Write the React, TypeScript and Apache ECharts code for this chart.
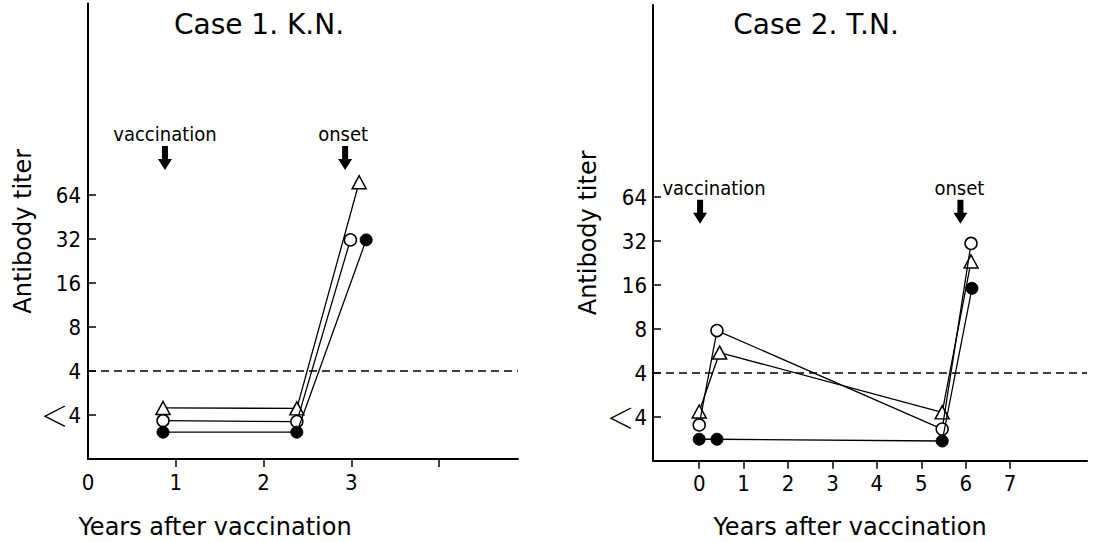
import React, { useEffect, useRef } from "react";
import * as echarts from "echarts";

const titles = ["Case 1. K.N.", "Case 2. T.N."];
const xAxisName = "Years after vaccination";
const yAxisName = "Antibody titer";

// titer levels on a log2 scale: 0 = "<4", 1 = 4, 2 = 8, ...
const yTickValues = [0, 1, 2, 3, 4, 5];
const yTickLabels = ["＜4", "4", "8", "16", "32", "64"];
const thresholdLevel = 1;

const case1XTicks = [1, 2, 3, 4];
const case1XLabels = [0, 1, 2, 3];
const case2XTicks = [0, 1, 2, 3, 4, 5, 6, 7];
const case2XLabels = [0, 1, 2, 3, 4, 5, 6, 7];

// Case 1 series [years, level]
const case1Triangle = [[0.855, 0.16], [2.38, 0.15], [3.09, 5.29]];
const case1Open = [[0.855, -0.13], [2.38, -0.15], [2.99, 3.98]];
const case1Filled = [[0.855, -0.39], [2.38, -0.39], [3.17, 3.98]];

// Case 2 series
const case2Triangle = [[0, 0.13], [0.46, 1.47], [5.47, 0.11], [6.12, 3.54]];
const case2Open = [[0, -0.175], [0.4, 1.97], [5.47, -0.27], [6.12, 3.95]];
const case2Filled = [[0, -0.5], [0.4, -0.5], [5.47, -0.54], [6.14, 2.93]];

// events (arrows)
const case1Events = [
  { name: "vaccination", x: 0.877 },
  { name: "onset", x: 2.93 },
];
const case2Events = [
  { name: "vaccination", x: 0.02 },
  { name: "onset", x: 5.88 },
];

const TICK_FONT = "'DejaVu Sans Condensed', 'DejaVu Sans', sans-serif";
const NARROW_FONT = "'Liberation Sans Narrow', 'DejaVu Sans Condensed', sans-serif";
const NAME_FONT = "'DejaVu Sans', sans-serif";
const ARROW =
  "path://M4 0 L10 0 L10 13 L14 13 L7 24 L0 13 L4 13 Z";

function yLabelFormatter(v: number) {
  const i = yTickValues.indexOf(v);
  if (i < 0) return "";
  const s = yTickLabels[i];
  if (s.startsWith("＜")) return "{lt|＜}{n|" + s.slice(1) + "}";
  return "{n|" + s + "}";
}

function makeYAxis(gridIndex: number, min: number, max: number, margin: number) {
  return {
    type: "value",
    gridIndex,
    min,
    max,
    name: yAxisName,
    nameLocation: "middle",
    nameGap: 53,
    nameRotate: 90,
    nameTextStyle: { fontFamily: NAME_FONT, fontSize: 24, color: "#000" },
    splitLine: { show: false },
    axisLine: { show: true, onZero: false, lineStyle: { color: "#000", width: 2 } },
    axisTick: {
      show: true,
      inside: true,
      length: 8,
      customValues: yTickValues,
      lineStyle: { color: "#000", width: 1.5 },
    },
    axisLabel: {
      show: true,
      margin,
      customValues: yTickValues,
      formatter: yLabelFormatter,
      rich: {
        lt: { fontFamily: "'Noto Sans CJK JP', sans-serif", fontSize: 28, color: "#000", fontWeight: 300 },
        n: { fontFamily: TICK_FONT, fontSize: 22, color: "#000" },
      },
    },
  };
}

function makeXAxis(gridIndex: number, min: number, max: number, ticks: number[], labels: number[]) {
  return {
    type: "value",
    gridIndex,
    min,
    max,
    splitLine: { show: false },
    axisLine: { show: true, onZero: false, lineStyle: { color: "#000", width: 2 } },
    axisTick: {
      show: true,
      length: 8,
      customValues: ticks,
      lineStyle: { color: "#000", width: 1.5 },
    },
    axisLabel: {
      show: true,
      margin: 12,
      customValues: labels,
      fontFamily: TICK_FONT,
      fontSize: 22,
      color: "#000",
      formatter: (v: number) => String(v),
    },
  };
}

function lineSeries(idx: number, data: number[][], kind: "tri" | "open" | "filled", extra: any = {}) {
  const base: any = {
    type: "line",
    xAxisIndex: idx,
    yAxisIndex: idx,
    data,
    symbol: kind === "tri" ? "triangle" : "circle",
    symbolSize: kind === "tri" ? [14, 13] : 12,
    showAllSymbol: true,
    lineStyle: { color: "#000", width: 1.3 },
    itemStyle:
      kind === "filled"
        ? { color: "#000", borderColor: "#000", borderWidth: 1 }
        : { color: "#fff", borderColor: "#000", borderWidth: 1.5 },
    emphasis: { disabled: true },
    z: kind === "filled" ? 4 : kind === "open" ? 3 : 2,
  };
  return Object.assign(base, extra);
}

function eventMarks(events: { name: string; x: number }[], level: number, offsets: number[][]) {
  return {
    symbol: ARROW,
    symbolSize: [14, 24],
    itemStyle: { color: "#000" },
    label: {
      show: true,
      position: "top",
      distance: 2,
      fontFamily: NARROW_FONT,
      fontSize: 20,
      color: "#000",
      formatter: (p: any) => p.name,
    },
    data: events.map((e, i) => ({
      name: e.name,
      coord: [e.x, level],
      label: { offset: offsets[i] },
    })),
  };
}

function thresholdMark() {
  return {
    symbol: ["none", "none"],
    silent: true,
    label: { show: false },
    lineStyle: { color: "#000", width: 1.5, type: [8, 5] },
    data: [{ yAxis: thresholdLevel }],
  };
}

export default function App() {
  const ref = useRef<HTMLDivElement>(null);
  useEffect(() => {
    if (!ref.current) return;
    const chart = echarts.init(ref.current, undefined, { renderer: "svg" });
    const option: any = {
      animation: false,
      backgroundColor: "#fff",
      grid: [
        { left: 88, top: 3.6, width: 430, height: 455.4 },
        { left: 653, top: 4.96, width: 434, height: 455.84 },
      ],
      xAxis: [
        makeXAxis(0, 0, 4.9, case1XTicks, case1XLabels),
        makeXAxis(1, -1.04, 8.73, case2XTicks, case2XLabels),
      ],
      yAxis: [makeYAxis(0, -1, 9.35, 7), makeYAxis(1, -0.99, 9.37, 6)],
      series: [
        lineSeries(0, case1Triangle, "tri", {
          markLine: thresholdMark(),
          markPoint: eventMarks(case1Events, 5.84, [[0, 0], [-2, 0]]),
        }),
        lineSeries(0, case1Open, "open"),
        lineSeries(0, case1Filled, "filled"),
        lineSeries(1, case2Triangle, "tri", {
          markLine: thresholdMark(),
          markPoint: eventMarks(case2Events, 4.67, [[14, 0], [-1, 0]]),
        }),
        lineSeries(1, case2Open, "open"),
        lineSeries(1, case2Filled, "filled"),
      ],
      graphic: [
        { type: "text", x: 259, y: 24, style: { text: titles[0], fontFamily: NAME_FONT, fontSize: 28, fill: "#000", align: "center", verticalAlign: "middle" } },
        { type: "text", x: 816, y: 24, style: { text: titles[1], fontFamily: NAME_FONT, fontSize: 28, fill: "#000", align: "center", verticalAlign: "middle" } },
        { type: "text", x: 215, y: 527, style: { text: xAxisName, fontFamily: NAME_FONT, fontSize: 24, fill: "#000", align: "center", verticalAlign: "middle" } },
        { type: "text", x: 850, y: 527, style: { text: xAxisName, fontFamily: NAME_FONT, fontSize: 24, fill: "#000", align: "center", verticalAlign: "middle" } },
      ],
    };
    chart.setOption(option);
    return () => chart.dispose();
  }, []);
  return (
    <div
      ref={ref}
      style={{ position: "absolute", left: 0, top: 0, width: 1094, height: 542, background: "#fff" }}
    />
  );
}
